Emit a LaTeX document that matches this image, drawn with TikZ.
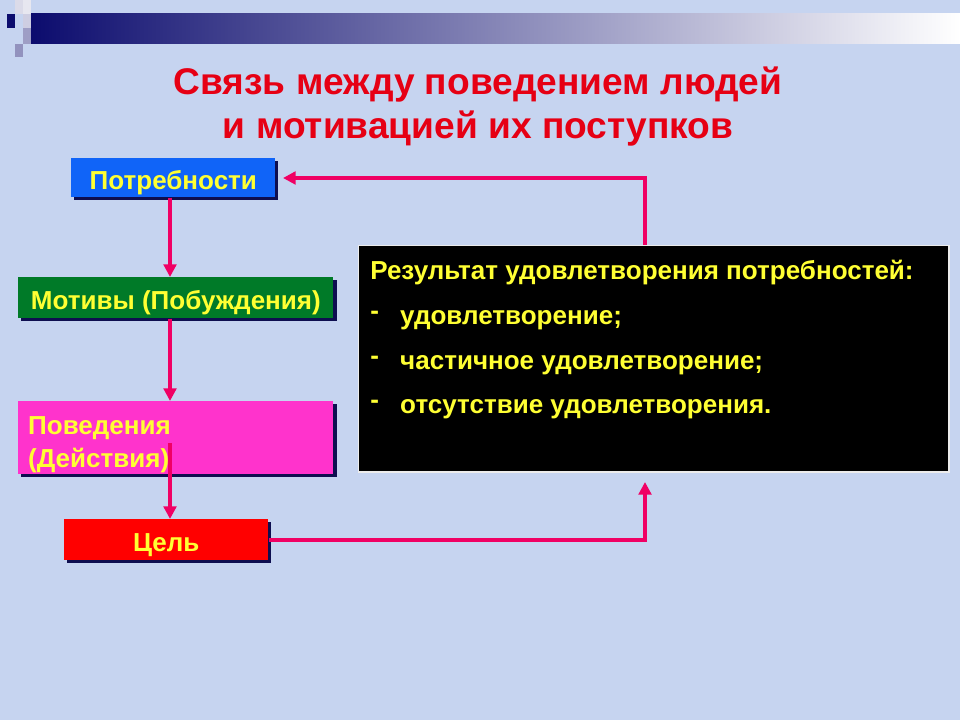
\documentclass[tikz,border=0pt]{standalone}
\usepackage{fontspec}
\setmainfont{Liberation Sans}
\usetikzlibrary{arrows.meta,shadows}
\definecolor{bgcol}{RGB}{198,212,240}
\definecolor{navy}{RGB}{12,12,110}
\definecolor{shadecol}{RGB}{14,14,80}
\definecolor{needblue}{RGB}{16,100,248}
\definecolor{motgreen}{RGB}{0,122,40}
\definecolor{behpink}{RGB}{255,51,204}
\definecolor{goalred}{RGB}{255,0,0}
\definecolor{txtyellow}{RGB}{255,255,51}
\definecolor{linkcol}{RGB}{240,0,100}
\definecolor{titlered}{RGB}{230,0,20}
\tikzset{
  box/.style={anchor=north west, font=\fontsize{18.5}{23.5}\selectfont\bfseries, text=txtyellow,
    inner sep=0pt, text height=16.8pt, text depth=0pt,
    drop shadow={shadow xshift=2.2pt, shadow yshift=-2.2pt, fill=shadecol, opacity=1}},
  link/.style={draw=linkcol, line width=2.7pt, -{Triangle[length=9pt,width=9pt]}},
  sq/.style={draw=none}
}
\newcommand{\resdash}{\makebox[21.3pt][l]{\raisebox{0.35ex}{-}}}
\begin{document}
\begin{tikzpicture}[x=0.025cm,y=-0.025cm]
\fill[bgcol] (0,0) rectangle (960,720);
\useasboundingbox (0,0) rectangle (960,720);
\shade[left color=navy, right color=white] (31,14) rectangle (960,44);
\fill[sq, navy] (7,14) rectangle (15,28);
\fill[sq, white!85!navy] (15,0) rectangle (23,14);
\fill[sq, white!90!navy] (23,0) rectangle (31,14);
\fill[sq, white!80!navy] (23,14) rectangle (31,28);
\fill[sq, white!60!navy] (23,28) rectangle (31,44);
\fill[sq, white!55!navy] (15,44) rectangle (23,57);
\node[font=\fontsize{26.4}{31.3}\selectfont\bfseries, text=titlered, align=center] (title) at (478,107)
  {Связь между поведением людей\\и мотивацией их поступков};
\node[box, fill=needblue, minimum width=145.1pt, minimum height=27.7pt] (need) at (71,158) {Потребности};
\node[box, fill=motgreen, minimum width=224.1pt, minimum height=29.2pt] (motive) at (18,277) {Мотивы (Побуждения)};
\node[box, fill=behpink, minimum width=224.1pt, minimum height=51.9pt, align=left, text width=210pt,
  inner xsep=7pt, text height=23.4pt, text depth=27.8pt] (behav) at (18,401)
  {Поведения\\(Действия)};
\node[box, fill=goalred, minimum width=145.1pt, minimum height=29.2pt] (goal) at (64,519) {Цель};
\node[anchor=north west, fill=black, draw=white!85!gray, line width=1pt, minimum width=419.7pt, minimum height=160.8pt] (result) at (358,245) {};
\node[anchor=north west, font=\fontsize{18.5}{31.8}\selectfont\bfseries, text=txtyellow, align=left, inner sep=0pt] (reslist) at (370,260)
  {Результат удовлетворения потребностей:\\
   \resdash удовлетворение;\\
   \resdash частичное удовлетворение;\\
   \resdash отсутствие удовлетворения.};
\coordinate (behin) at (170,443);
\coordinate (resin) at (645,482);
\coordinate (restop) at (645,245);
\coordinate (needin) at (283,178);
\draw[link] (need.south -| behin) -- (motive.north -| behin);
\draw[link] (motive.south -| behin) -- (behav.north -| behin);
\draw[link] (behin) -- (goal.north -| behin);
\draw[link] (goal.east) -| (resin);
\draw[link] (restop) |- (needin);
\end{tikzpicture}
\end{document}
